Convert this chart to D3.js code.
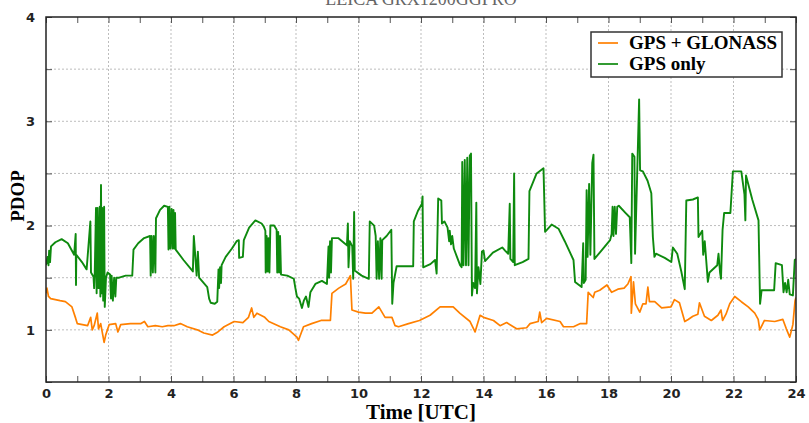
<!DOCTYPE html>
<html>
<head>
<meta charset="utf-8">
<script src="https://cdn.jsdelivr.net/npm/d3@7"></script>
<style>
body { margin: 0; background: #fff; }
.tick text { font-family: "DejaVu Sans", sans-serif; font-weight: bold; font-size: 13px; fill: #222; }
.tick line { stroke: #555; }
.grid line { stroke: #bdbdbd; stroke-dasharray: 2,2; }
</style>
</head>
<body>
<div id="chart"></div>
<script>
// Data (hours UTC, PDOP)
var gnssHours = [0.00,0.03,0.08,0.15,0.30,0.45,0.62,0.83,0.95,1.00,1.33,1.43,1.48,1.54,1.64,1.68,1.75,1.86,1.91,2.02,2.23,2.30,2.39,2.70,3.04,3.15,3.26,3.50,3.72,3.90,4.09,4.30,4.52,4.84,5.05,5.33,5.50,5.70,6.02,
    6.30,6.48,6.58,6.65,6.75,7.00,7.13,7.50,7.77,8.03,8.08,8.24,8.50,8.80,9.10,9.15,9.37,9.59,9.74,9.79,10.00,10.22,10.43,10.65,10.85,11.07,11.17,11.28,11.60,11.95,
    12.29,12.61,13.03,13.24,13.57,13.73,13.89,14.00,14.32,14.53,14.74,15.06,15.38,15.49,15.75,15.80,15.86,16.02,16.45,16.56,16.88,17.10,17.30,17.35,17.51,17.56,17.72,17.95,
    18.10,18.30,18.50,18.62,18.72,18.73,18.80,18.86,19.00,19.10,19.20,19.26,19.31,19.48,19.70,20.00,20.11,20.27,20.44,20.55,20.70,20.86,20.91,21.07,21.29,21.50,21.60,21.65,21.76,21.88,22.04,22.25,22.47,22.68,22.79,22.84,22.99,23.32,23.58,23.69,23.80,23.90,23.97,24.00];
var gnssPdop = [1.35,1.40,1.32,1.30,1.29,1.28,1.27,1.22,1.11,1.06,1.04,1.12,1.00,1.04,1.16,1.01,1.06,0.88,0.95,1.05,1.06,0.98,1.05,1.06,1.06,1.08,1.03,1.04,1.03,1.04,1.04,1.06,1.03,1.00,0.97,0.95,0.98,1.03,1.08,
    1.07,1.12,1.21,1.12,1.16,1.12,1.08,1.03,1.00,0.93,0.90,1.03,1.06,1.09,1.09,1.35,1.40,1.44,1.52,1.19,1.17,1.16,1.16,1.22,1.12,1.12,1.04,1.03,1.06,1.09,
    1.14,1.22,1.22,1.16,1.08,0.98,1.14,1.12,1.09,1.04,1.07,1.01,1.02,1.06,1.08,1.17,1.07,1.11,1.08,1.03,1.03,1.06,1.06,1.36,1.31,1.36,1.38,1.43,
    1.36,1.39,1.40,1.44,1.51,1.16,1.46,1.25,1.17,1.25,1.25,1.41,1.27,1.27,1.21,1.22,1.29,1.26,1.08,1.10,1.13,1.15,1.26,1.13,1.09,1.14,1.19,1.09,1.15,1.25,1.32,1.27,1.22,1.16,1.10,1.00,1.09,1.08,1.10,1.01,0.93,1.05,1.28,1.31];

var gpsHours = [0.00,0.05,0.08,0.10,0.13,0.16,0.30,0.50,0.70,0.90,0.95,0.96,0.97,1.15,1.30,1.42,1.44,1.52,1.54,1.56,
    1.60,1.62,1.65,1.68,1.72,1.74,1.76,1.78,1.80,1.83,1.86,1.88,1.92,1.97,2.05,2.08,2.10,2.14,2.18,2.22,2.25,
    2.34,2.55,2.76,2.80,2.95,3.14,3.33,3.35,3.38,3.42,3.45,3.50,3.52,3.65,3.78,3.90,
    3.92,3.95,3.98,4.02,4.05,4.08,4.10,4.13,4.15,4.40,4.70,4.73,4.76,4.82,4.86,4.90,5.16,5.22,5.27,5.40,5.48,
    5.52,5.54,5.57,5.60,5.62,5.75,5.95,6.10,6.17,6.18,6.30,6.33,6.50,6.70,6.90,6.97,
    7.02,7.03,7.06,7.09,7.12,7.15,7.18,7.30,7.38,7.40,7.43,7.46,7.49,7.52,7.72,7.93,7.98,8.03,8.10,8.19,8.25,8.32,8.40,8.46,8.62,8.83,8.99,
    9.04,9.06,9.09,9.12,9.15,9.35,9.55,9.63,9.66,9.68,9.72,9.80,9.83,9.86,9.88,10.10,10.33,
    10.36,10.50,10.55,10.58,10.62,10.66,10.70,10.74,10.76,10.90,11.05,11.08,11.12,11.22,11.50,11.75,11.77,11.90,12.03,
    12.05,12.07,12.30,12.45,12.50,12.55,12.65,12.67,12.75,12.85,12.90,12.92,12.96,13.00,13.05,13.15,13.25,13.30,
    13.32,13.36,13.40,13.44,13.48,13.52,13.56,13.60,13.63,13.67,13.73,13.77,13.79,13.84,13.90,13.95,14.00,14.05,14.30,14.60,14.69,14.79,
    14.84,14.86,14.95,14.98,15.00,15.25,15.44,15.47,15.70,15.92,15.97,16.18,16.40,16.60,16.88,16.93,17.14,17.19,17.21,17.27,17.30,17.33,17.38,17.42,17.48,17.52,17.55,17.80,18.05,
    18.10,18.13,18.16,18.20,18.24,18.28,18.33,18.55,18.68,18.73,18.76,18.83,18.85,18.92,18.98,19.01,19.10,19.25,19.37,19.42,19.47,19.52,19.80,20.01,20.06,20.20,20.33,20.44,
    20.49,20.70,20.86,20.88,21.00,21.03,21.08,21.18,21.23,21.48,21.52,21.57,21.60,21.65,21.70,21.90,21.98,22.25,22.35,22.38,22.40,22.60,22.80,22.85,22.90,23.30,23.35,23.55,23.60,23.65,23.70,23.75,23.80,23.90,23.96,24.00];
var gpsPdop = [1.62,1.70,1.62,1.76,1.65,1.80,1.84,1.87,1.83,1.72,1.92,1.43,1.72,1.65,1.58,2.04,1.55,1.51,1.40,1.55,
    2.17,1.35,2.17,1.40,2.18,1.32,2.39,1.35,2.17,1.28,2.18,1.22,1.50,1.55,1.53,1.30,1.52,1.28,1.50,1.32,1.50,
    1.50,1.52,1.52,1.77,1.83,1.88,1.90,1.52,1.90,1.55,1.90,1.55,2.07,2.15,2.19,2.18,
    1.77,2.18,1.78,2.16,1.78,2.15,1.78,2.12,1.77,1.67,1.56,1.90,1.78,1.52,1.75,1.50,1.41,1.30,1.26,1.25,1.27,
    1.58,1.40,1.60,1.45,1.62,1.70,1.78,1.85,1.86,1.69,1.70,1.86,1.98,2.05,2.02,1.99,
    1.95,1.55,1.90,1.56,1.88,1.55,2.00,2.00,1.96,1.55,1.94,1.55,1.90,1.53,1.52,1.49,1.40,1.32,1.30,1.21,1.28,1.32,1.22,1.36,1.44,1.47,1.44,
    1.80,1.50,1.85,1.55,1.88,1.88,1.83,1.81,2.02,1.60,1.85,1.80,1.49,2.13,1.57,1.52,1.49,
    2.04,2.00,1.90,1.49,1.85,1.49,1.88,1.49,1.86,1.90,1.96,1.25,1.45,1.61,1.61,1.61,2.04,2.14,2.21,
    2.28,1.60,1.63,1.67,1.54,2.26,2.24,2.02,2.04,1.98,1.85,1.95,1.82,1.90,1.78,1.70,1.62,1.60,
    2.61,1.62,2.63,1.62,2.65,1.62,2.67,2.69,1.33,1.45,1.40,2.22,1.35,1.60,1.44,1.75,1.76,1.66,1.74,1.79,1.76,1.73,
    2.21,1.68,1.65,2.50,1.62,1.65,1.68,2.33,2.50,2.55,1.94,2.01,1.97,1.85,1.67,1.46,1.41,1.83,1.45,1.48,2.34,1.70,2.40,1.72,2.60,2.68,1.68,1.77,1.86,
    1.92,2.18,1.90,2.18,1.92,2.18,2.19,2.12,2.08,1.64,2.69,2.66,1.73,2.52,3.21,2.53,2.52,2.43,2.31,1.89,1.70,1.73,1.69,1.65,1.79,1.73,1.56,1.39,
    2.24,2.25,2.27,1.89,1.95,1.72,1.85,1.46,1.55,1.62,1.73,1.55,1.49,1.96,2.12,2.12,2.52,2.52,2.30,2.05,2.48,2.25,2.05,1.25,1.38,1.38,1.64,1.62,1.36,1.45,1.36,1.48,1.34,1.33,1.67,1.68];

var seriesNames = ["GPS + GLONASS", "GPS only"];
var seriesColors = ["#ff8000", "#0e8a0e"];
var xTicks = d3.range(0, 25, 1);
var yTicks = d3.range(0.5, 4.01, 0.5);
var yLabels = [1, 2, 3, 4];

var width = 809, height = 423;
var svg = d3.select("#chart").append("svg")
    .attr("width", width)
    .attr("height", height);

var x = d3.scaleLinear().domain([0, 24]).range([46, 796]);
var y = d3.scaleLinear().domain([0.5, 4]).range([382, 17]);

// title (partly cut off at the top, like the source)
svg.append("text")
    .attr("x", 421).attr("y", 5)
    .attr("text-anchor", "middle")
    .style("font-family", "Liberation Serif, serif")
    .style("font-size", "18px")
    .style("fill", "#666")
    .text("LEICA GRX1200GGPRO");

// grid
var grid = svg.append("g").attr("class", "grid");
grid.selectAll(".vg").data(d3.range(2, 24, 2)).enter().append("line")
    .attr("x1", d => x(d)).attr("x2", d => x(d))
    .attr("y1", y(4)).attr("y2", y(0.5));
grid.selectAll(".hg").data(d3.range(1, 4, 0.5)).enter().append("line")
    .attr("x1", x(0)).attr("x2", x(24))
    .attr("y1", d => y(d)).attr("y2", d => y(d));

// axes
svg.append("g")
    .attr("transform", "translate(0," + y(0.5) + ")")
    .call(d3.axisBottom(x).tickValues(xTicks).tickSizeInner(-6).tickSizeOuter(0).tickPadding(7)
        .tickFormat(d => d % 2 ? "" : d));
svg.append("g")
    .attr("transform", "translate(0," + y(4) + ")")
    .call(d3.axisTop(x).tickValues(xTicks).tickSizeInner(-6).tickSizeOuter(0).tickFormat(""));
svg.append("g")
    .attr("transform", "translate(" + x(0) + ",0)")
    .call(d3.axisLeft(y).tickValues(yTicks).tickSizeInner(-6).tickSizeOuter(0).tickPadding(11)
        .tickFormat(d => yLabels.indexOf(d) >= 0 ? d : ""));
svg.append("g")
    .attr("transform", "translate(" + x(24) + ",0)")
    .call(d3.axisRight(y).tickValues(yTicks).tickSizeInner(-6).tickSizeOuter(0).tickFormat(""));
svg.selectAll(".domain").remove();

// lines
svg.append("clipPath").attr("id", "clip").append("rect")
    .attr("x", x(0)).attr("y", y(4))
    .attr("width", x(24) - x(0)).attr("height", y(0.5) - y(4));

var line = d3.line().x(d => x(d[0])).y(d => y(d[1]));
var plot = svg.append("g").attr("clip-path", "url(#clip)");
plot.append("path")
    .datum(d3.zip(gnssHours, gnssPdop))
    .attr("d", line)
    .attr("fill", "none")
    .attr("stroke", seriesColors[0])
    .attr("stroke-width", 1.7)
    .attr("stroke-linejoin", "round");
plot.append("path")
    .datum(d3.zip(gpsHours, gpsPdop))
    .attr("d", line)
    .attr("fill", "none")
    .attr("stroke", seriesColors[1])
    .attr("stroke-width", 1.9)
    .attr("stroke-linejoin", "round");

// frame
svg.append("rect")
    .attr("x", x(0)).attr("y", y(4))
    .attr("width", x(24) - x(0)).attr("height", y(0.5) - y(4))
    .attr("fill", "none").attr("stroke", "#222").attr("stroke-width", 1.5);

// axis titles
svg.append("text")
    .attr("x", (x(0) + x(24)) / 2).attr("y", 419)
    .attr("text-anchor", "middle")
    .style("font-family", "Liberation Serif, serif")
    .style("font-weight", "bold")
    .style("font-size", "21px")
    .text("Time [UTC]");
svg.append("text")
    .attr("transform", "translate(24,196) rotate(-90)")
    .attr("text-anchor", "middle")
    .style("font-family", "Liberation Serif, serif")
    .style("font-weight", "bold")
    .style("font-size", "19px")
    .text("PDOP");

// legend
var legend = svg.append("g").attr("transform", "translate(591,32)");
legend.append("rect")
    .attr("width", 191).attr("height", 45)
    .attr("fill", "#fff").attr("stroke", "#333").attr("stroke-width", 1.5);
var items = legend.selectAll(".item").data(seriesNames).enter().append("g")
    .attr("transform", (d, i) => "translate(0," + (11 + i * 21) + ")");
items.append("line")
    .attr("x1", 7).attr("x2", 27)
    .attr("stroke", (d, i) => seriesColors[i]).attr("stroke-width", 1.7);
items.append("text")
    .attr("x", 38).attr("y", 6)
    .style("font-family", "Liberation Serif, serif")
    .style("font-weight", "bold")
    .style("font-size", "19px")
    .text(d => d);
</script>
</body>
</html>
